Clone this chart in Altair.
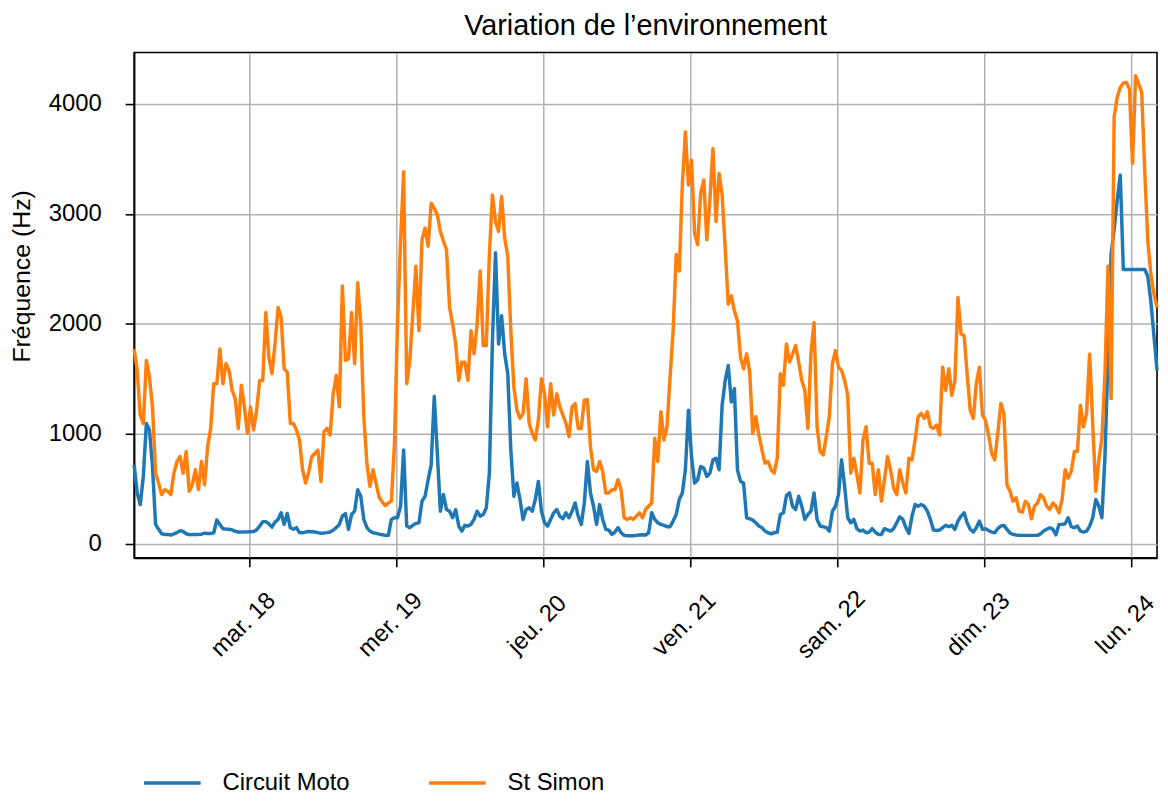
import json
from datetime import datetime, timedelta

import altair as alt
import pandas as pd

FONT = "Liberation Sans"

# ---- data (half-hourly samples) ----
start_time = "2025-03-17T05:15:00Z"
step_minutes = 30

series_names = ["Circuit Moto", "St Simon"]
series_colors = ["#1f77b4", "#ff7f0e"]

circuit_moto = [
    717, 461, 355, 611, 1093, 1033, 702, 175, 130, 90,
    84, 84, 78, 88, 100, 118, 110, 90, 81, 84,
    84, 84, 86, 95, 92, 92, 99, 215, 175, 136,
    132, 130, 125, 112, 106, 105, 105, 107, 108, 110,
    125, 160, 200, 200, 180, 150, 196, 220, 280, 175,
    274, 145, 130, 145, 100, 99, 105,
    110, 108, 105, 100, 95, 97, 100, 105, 123, 145,
    175, 250, 274, 130, 265, 295, 491, 431, 220, 145,
    114, 99, 93, 86, 80, 77, 75, 220, 235, 235,
    340, 852, 160, 145, 166, 184, 190, 386, 431, 581,
    717, 1340, 822, 295, 446, 310, 295, 235, 310, 160,
    114, 166, 160, 175, 220,
    295, 250, 265, 325, 641, 1846, 2645, 1816, 2072, 1726,
    1545, 852, 431, 551, 401, 220, 310, 325, 295, 401,
    566, 295, 190, 160, 220, 280, 310, 250, 226, 280,
    235, 295, 370, 250, 175, 370, 747, 461, 340, 175,
    355, 220, 130, 123, 84, 105, 145, 99, 75, 72,
    72, 72, 75, 78, 80,
    78, 99, 280, 220, 190, 175, 166, 154, 154, 205,
    265, 401, 461, 672, 1214, 792, 551, 581, 702, 687,
    611, 641, 762, 777, 672, 1259, 1485, 1620, 1289, 1410,
    672, 566, 551, 235, 226, 214, 190, 160, 145, 114,
    99, 90, 99, 105, 265, 280, 437, 461, 340, 310,
    431, 340, 220, 265, 295, 461,
    220, 160, 154, 145, 114, 295, 340, 446, 762, 521,
    235, 190, 220, 136, 114, 123, 99, 105, 136, 105,
    84, 84, 136, 125, 114, 136, 190, 244, 220, 145,
    93, 250, 355, 340, 355, 340, 295, 220, 123, 120,
    123, 145, 166, 154, 166, 130, 205, 250, 280, 190,
    130, 105, 145, 205, 130,
    136, 120, 105, 99, 136, 160, 166, 130, 95, 84,
    78, 75, 75, 75, 75, 75, 75, 75, 90, 115,
    130, 145, 130, 80, 175, 175, 181, 235, 154, 145,
    160, 114, 105, 114, 160, 235, 401, 340, 235, 792,
    1696, 2630, 2855, 3127, 3352, 2494, 2494, 2494, 2494, 2494,
    2494, 2494, 2494, 2430, 2200, 1890, 1575,
]

st_simon = [
    1771, 1575, 1169, 1093, 1666, 1515, 1244, 641, 551, 446,
    491, 476, 446, 641, 747, 792, 641, 837, 476, 536,
    672, 491, 747, 536, 882, 1048, 1455, 1455, 1771, 1455,
    1636, 1575, 1395, 1319, 1048, 1440, 1244, 1003, 1244, 1033,
    1214, 1485, 1485, 2102, 1696, 1545, 1816, 2148, 2057, 1590,
    1560, 1093, 1093, 1033, 943, 672, 551,
    650, 790, 820, 850, 566, 1018, 1048, 988, 1364, 1530,
    1244, 2343, 1666, 1681, 2102, 1636, 2373, 1997, 1154, 732,
    521, 672, 551, 420, 380, 345, 370, 386, 900, 2000,
    2750, 3383, 1455, 1666, 2087, 2524, 1937, 2765, 2870, 2705,
    3096, 3051, 2991, 2840, 2750, 2675, 2148, 1997, 1816, 1485,
    1651, 1651, 1485, 1937, 1726,
    1997, 2479, 1801, 1801, 2630, 3172, 2931, 2840, 3157, 2780,
    2614, 1937, 1425, 1214, 1139, 1184, 1500, 1093, 1003, 943,
    1124, 1500, 1364, 1063, 1455, 1169, 1364, 1244, 1169, 1093,
    973, 1244, 1274, 1048, 1048, 1304, 1310, 882, 672, 657,
    747, 657, 461, 461, 491, 491, 581, 491, 235, 220,
    235, 220, 250, 280, 235,
    310, 340, 370, 958, 747, 1199, 943, 1063, 1515, 1937,
    2630, 2479, 3262, 3744, 3262, 3488, 2825, 2720, 3187, 3307,
    2765, 3127, 3593, 2931, 3367, 3172, 2690, 2178, 2253, 2117,
    2027, 1696, 1590, 1726, 1560, 1003, 1154, 988, 852, 732,
    747, 672, 641, 777, 1545, 1440, 1816, 1651, 1726, 1801,
    1651, 1485, 1395, 1048, 1726, 2012,
    1063, 837, 807, 973, 1154, 1636, 1756, 1605, 1575, 1485,
    1349, 641, 777, 627, 461, 943, 1063, 732, 732, 446,
    672, 386, 581, 792, 672, 506, 446, 672, 551, 461,
    777, 762, 943, 1154, 1184, 1139, 1199, 1063, 1048, 1078,
    988, 1605, 1395, 1590, 1349, 1485, 2238, 1907, 1892, 1545,
    1214, 1139, 1455, 1605, 1169,
    1124, 988, 822, 762, 1003, 1274, 1184, 536, 476, 386,
    416, 295, 286, 386, 355, 226, 340, 370, 446, 416,
    340, 310, 370, 340, 280, 401, 672, 596, 657, 837,
    837, 1259, 1063, 1184, 1726, 1093, 476, 762, 958, 1545,
    2524, 1319, 3880, 4060, 4150, 4190, 4196, 4136, 3458, 4256,
    4181, 4105, 3383, 2750, 2449, 2268, 2148,
]

tick_days = [18, 19, 20, 21, 22, 23, 24]
tick_labels = ["mar. 18", "mer. 19", "jeu. 20", "ven. 21", "sam. 22", "dim. 23", "lun. 24"]
y_ticks = [0, 1000, 2000, 3000, 4000]

# ---- build long table ----
t0 = datetime.strptime(start_time, "%Y-%m-%dT%H:%M:%SZ")
n = len(st_simon)
times = [(t0 + timedelta(minutes=step_minutes * i)).strftime("%Y-%m-%dT%H:%M:%SZ") for i in range(n)]
t_end = t0 + timedelta(minutes=step_minutes * (n - 1))

rows = []
for name, vals in zip(series_names, [circuit_moto, st_simon]):
    for t, v in zip(times, vals):
        rows.append({"time": t, "value": v, "series": name})
df = pd.DataFrame(rows)

x_domain = [
    alt.DateTime(year=t0.year, month=t0.month, date=t0.day, hours=t0.hour, minutes=t0.minute, utc=True),
    alt.DateTime(year=t_end.year, month=t_end.month, date=t_end.day, hours=t_end.hour, minutes=t_end.minute, utc=True),
]
x_values = [alt.DateTime(year=2025, month=3, date=d, utc=True) for d in tick_days]
label_expr = json.dumps(tick_labels) + "[utcdate(datum.value) - %d]" % tick_days[0]

chart = (
    alt.Chart(df)
    .mark_line(strokeWidth=3.5, strokeJoin="round")
    .encode(
        x=alt.X(
            "time:T",
            scale=alt.Scale(type="utc", domain=x_domain, nice=False),
            axis=alt.Axis(
                values=x_values,
                labelExpr=label_expr,
                title=None,
                labelAngle=-45,
                labelAlign="center",
                labelBaseline="middle",
                labelPadding=58,
                labelOffset=-6,
                labelFontSize=24,
                tickSize=9,
            ),
        ),
        y=alt.Y(
            "value:Q",
            scale=alt.Scale(domain=[-130, 4468], nice=False, zero=False),
            axis=alt.Axis(
                values=y_ticks,
                format="d",
                title="Fréquence (Hz)",
                titleFontSize=25,
                titleX=-113,
                titleY=225,
                titleBaseline="middle",
                titleAngle=-90,
                labelFontSize=24,
                labelPadding=24,
                tickSize=9,
            ),
        ),
        color=alt.Color(
            "series:N",
            scale=alt.Scale(domain=series_names, range=series_colors),
            legend=alt.Legend(
                title=None,
                orient="none",
                legendX=8,
                legendY=705,
                direction="horizontal",
                symbolType="stroke",
                symbolSize=3249,
                symbolStrokeWidth=3.5,
                labelFontSize=24,
                labelOffset=20,
                columnPadding=72,
                labelColor="black",
                labelFont=FONT,
            ),
        ),
    )
    .properties(
        width=1030,
        height=509,
        title=alt.TitleParams(
            text="Variation de l’environnement",
            fontSize=29,
            font=FONT,
            fontWeight="normal",
            color="black",
            anchor="middle",
            offset=12,
        ),
        autosize=alt.AutoSizeParams(type="none"),
        padding={"left": 127, "top": 42, "right": 3, "bottom": 236},
    )
    .configure(font=FONT)
    .configure_view(stroke="black", strokeWidth=1.6)
    .configure_axis(
        domainColor="black",
        domainWidth=1.6,
        tickColor="black",
        tickWidth=1.6,
        gridColor="#b0b0b0",
        gridWidth=1.5,
        labelColor="black",
        titleColor="black",
        labelFont=FONT,
        titleFont=FONT,
        titleFontWeight="normal",
    )
)

chart.save("out.html", embed_options={"renderer": "svg", "actions": False})
